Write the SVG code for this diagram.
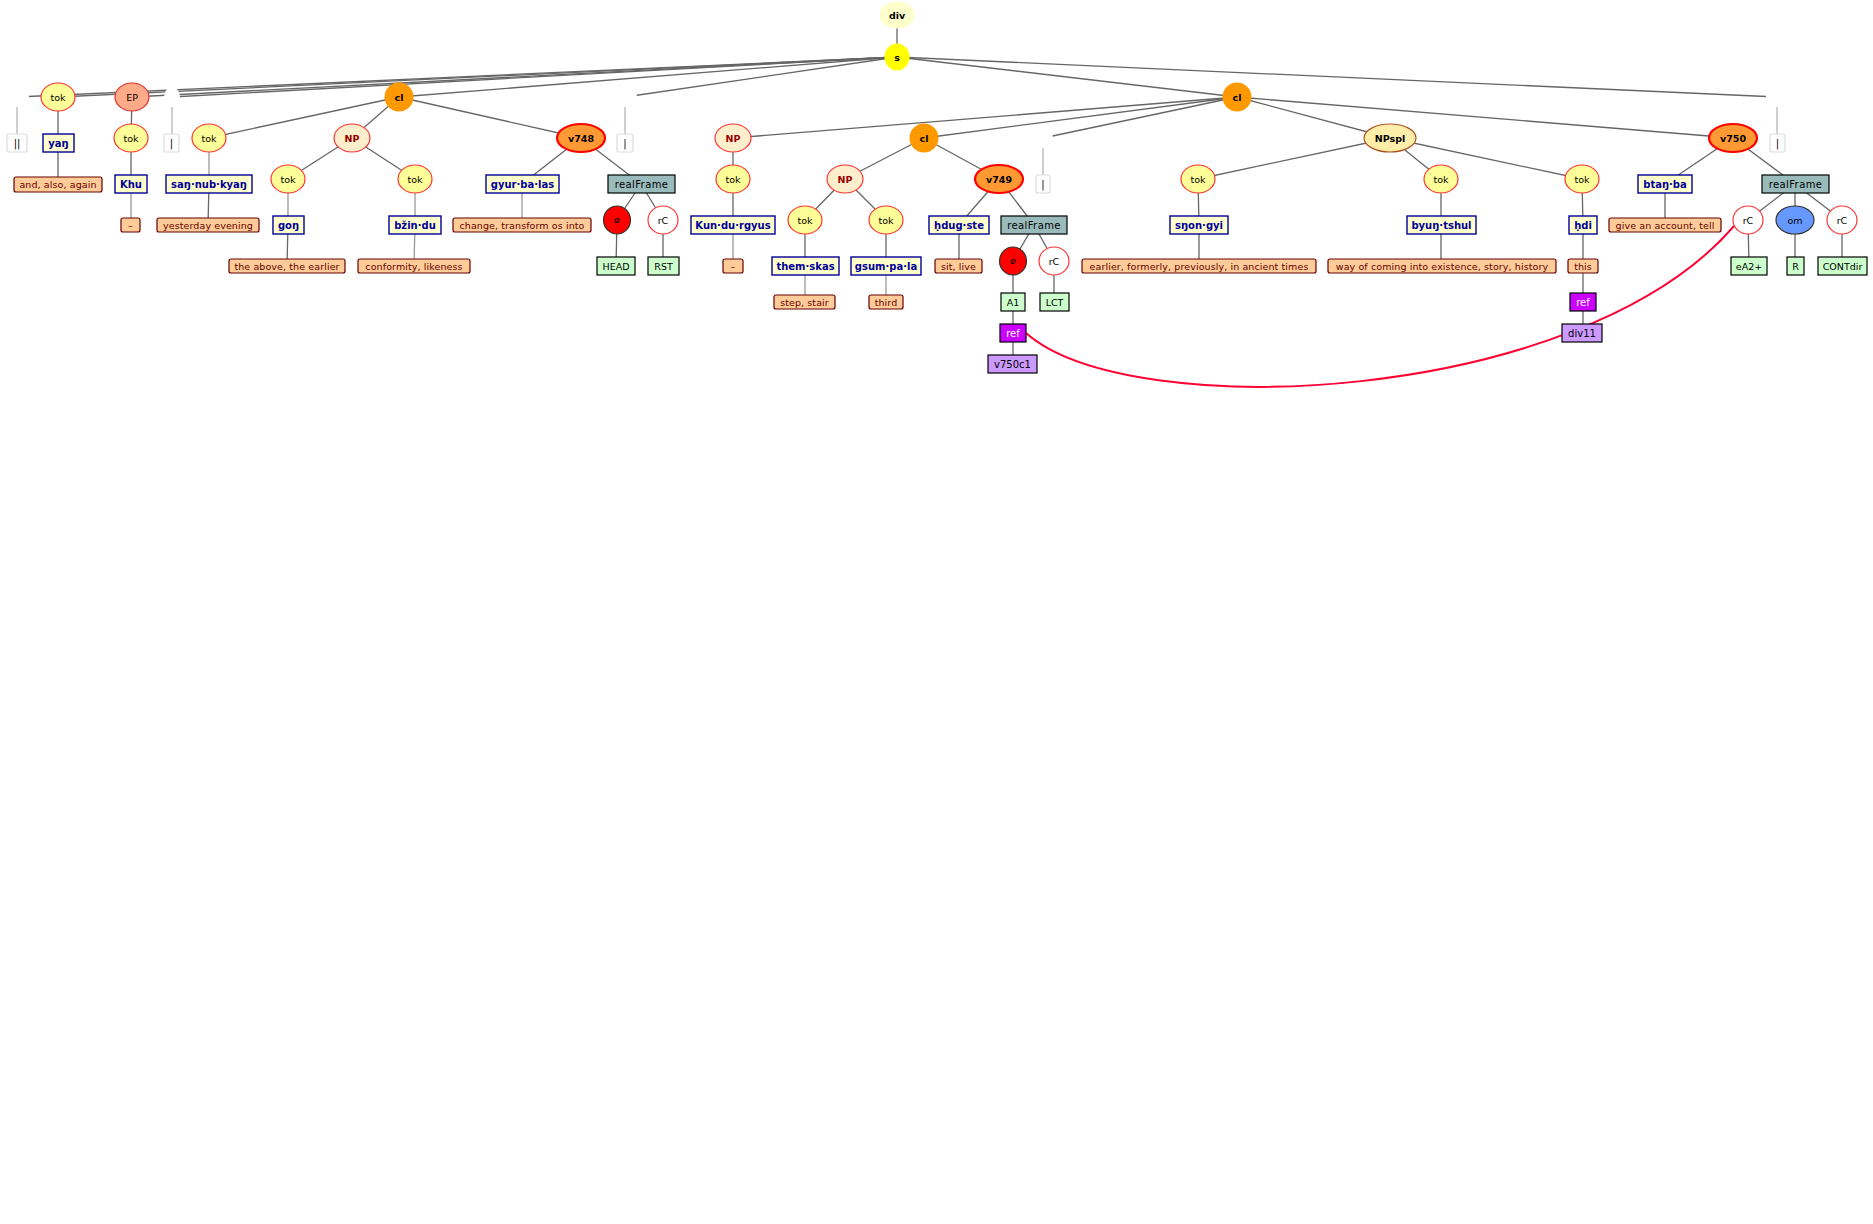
<svg xmlns="http://www.w3.org/2000/svg" width="1873" height="1224" viewBox="0 0 1873 1224">
<style>
text{font-family:"DejaVu Sans",Verdana,sans-serif;font-size:9.5px;text-anchor:middle;fill:#000}
.b{font-weight:bold}
#edges line{stroke:#666;stroke-width:1.3}
#edges line.l{stroke:#999}
#edges line.s{stroke:#b5b5b5}
.tok ellipse{fill:#ffff99;stroke:#ff3333;stroke-width:1.2}
.np ellipse{fill:#ffeecc;stroke:#ff3333;stroke-width:1.2}
.np text{fill:#990000;font-weight:bold}
.cl ellipse{fill:#ff9900}
.cl text{font-weight:bold}
.v ellipse{fill:#ff9933;stroke:#ff0000;stroke-width:2.2}
.v text{font-weight:bold}
.w rect{fill:#ffffcc;stroke:#000099;stroke-width:1.4}
.w text{fill:#000099;font-weight:bold;font-size:10px}
.g rect{fill:#ffcc99;stroke:#660000;stroke-width:1.2}
.g text{fill:#660000;letter-spacing:0.1px}
.gr rect{fill:#ccffcc;stroke:#000;stroke-width:1.2}
.rf rect{fill:#99bbbb;stroke:#000;stroke-width:1.2}
.rf text{font-size:10px;letter-spacing:0.4px}
.ref rect{fill:#cc00ff;stroke:#000;stroke-width:1.2}
.ref text{fill:#fff;font-size:10px}
.lv rect{fill:#cc99ff;stroke:#000;stroke-width:1.2}
.lv text{font-size:10px}
.pipe rect{fill:#fff;stroke:#dddddd;stroke-width:1.2}
.pipe text{fill:#000;font-size:10px}
.inv ellipse{fill:#fff}
.phi ellipse{fill:#ff0000;stroke:#333;stroke-width:1.2}
.rc ellipse{fill:#fff;stroke:#ff3333;stroke-width:1.2}
</style>
<g id="edges">
<line x1="897" y1="15" x2="897" y2="57"/>
<line x1="897" y1="57" x2="17" y2="97"/>
<line x1="897" y1="57" x2="58" y2="97"/>
<line x1="897" y1="57" x2="132" y2="97"/>
<line x1="897" y1="57" x2="172" y2="97"/>
<line x1="897" y1="57" x2="399" y2="97"/>
<line x1="897" y1="57" x2="625" y2="97"/>
<line x1="897" y1="57" x2="1237" y2="97"/>
<line x1="897" y1="57" x2="1777" y2="97"/>
<line class="s" x1="17" y1="107" x2="17" y2="134"/>
<line class="s" x1="172" y1="107" x2="172" y2="134"/>
<line class="s" x1="625" y1="107" x2="625" y2="134"/>
<line class="s" x1="1777" y1="107" x2="1777" y2="134"/>
<line class="s" x1="1043" y1="148" x2="1043" y2="175"/>
<line x1="58" y1="97" x2="58" y2="143"/>
<line x1="58" y1="143" x2="58" y2="184"/>
<line x1="132" y1="97" x2="131" y2="138"/>
<line x1="131" y1="138" x2="131" y2="184"/>
<line class="l" x1="131" y1="184" x2="131" y2="225"/>
<line x1="399" y1="97" x2="209" y2="138"/>
<line x1="399" y1="97" x2="352" y2="138"/>
<line x1="399" y1="97" x2="581" y2="138"/>
<line class="l" x1="209" y1="138" x2="209" y2="184"/>
<line x1="209" y1="184" x2="208" y2="225"/>
<line x1="352" y1="138" x2="288" y2="179"/>
<line x1="352" y1="138" x2="415" y2="179"/>
<line class="l" x1="288" y1="179" x2="288" y2="225"/>
<line x1="288" y1="225" x2="287" y2="266"/>
<line class="l" x1="415" y1="179" x2="415" y2="225"/>
<line class="l" x1="415" y1="225" x2="414" y2="266"/>
<line x1="581" y1="138" x2="522" y2="184"/>
<line class="l" x1="522" y1="184" x2="522" y2="225"/>
<line x1="581" y1="138" x2="641" y2="184"/>
<line x1="641" y1="184" x2="617" y2="220"/>
<line x1="641" y1="184" x2="663" y2="220"/>
<line x1="617" y1="220" x2="616" y2="266"/>
<line x1="663" y1="220" x2="663" y2="266"/>
<line x1="1237" y1="97" x2="733" y2="138"/>
<line x1="1237" y1="97" x2="924" y2="138"/>
<line x1="1237" y1="97" x2="1043" y2="138"/>
<line x1="1237" y1="97" x2="1390" y2="138"/>
<line x1="1237" y1="97" x2="1733" y2="138"/>
<line x1="733" y1="138" x2="733" y2="179"/>
<line x1="733" y1="179" x2="733" y2="225"/>
<line class="l" x1="733" y1="225" x2="733" y2="266"/>
<line x1="924" y1="138" x2="845" y2="179"/>
<line x1="924" y1="138" x2="999" y2="179"/>
<line x1="845" y1="179" x2="805" y2="220"/>
<line x1="845" y1="179" x2="886" y2="220"/>
<line x1="805" y1="220" x2="805" y2="266"/>
<line class="l" x1="805" y1="266" x2="805" y2="302"/>
<line x1="886" y1="220" x2="886" y2="266"/>
<line class="l" x1="886" y1="266" x2="886" y2="302"/>
<line x1="999" y1="179" x2="959" y2="225"/>
<line x1="959" y1="225" x2="959" y2="266"/>
<line x1="999" y1="179" x2="1034" y2="225"/>
<line x1="1034" y1="225" x2="1013" y2="261"/>
<line x1="1034" y1="225" x2="1054" y2="261"/>
<line x1="1013" y1="261" x2="1013" y2="302"/>
<line x1="1013" y1="302" x2="1013" y2="333"/>
<line x1="1013" y1="333" x2="1013" y2="364"/>
<line x1="1054" y1="261" x2="1054" y2="302"/>
<line x1="1390" y1="138" x2="1198" y2="179"/>
<line x1="1390" y1="138" x2="1441" y2="179"/>
<line x1="1390" y1="138" x2="1582" y2="179"/>
<line x1="1198" y1="179" x2="1199" y2="225"/>
<line x1="1199" y1="225" x2="1199" y2="266"/>
<line x1="1441" y1="179" x2="1441" y2="225"/>
<line x1="1441" y1="225" x2="1441" y2="266"/>
<line x1="1582" y1="179" x2="1583" y2="225"/>
<line x1="1583" y1="225" x2="1583" y2="266"/>
<line x1="1583" y1="266" x2="1583" y2="302"/>
<line x1="1583" y1="302" x2="1583" y2="333"/>
<line x1="1733" y1="138" x2="1665" y2="184"/>
<line x1="1665" y1="184" x2="1665" y2="225"/>
<line x1="1733" y1="138" x2="1795" y2="184"/>
<line x1="1795" y1="184" x2="1748" y2="220"/>
<line x1="1795" y1="184" x2="1795" y2="220"/>
<line x1="1795" y1="184" x2="1842" y2="220"/>
<line x1="1748" y1="220" x2="1749" y2="266"/>
<line x1="1795" y1="220" x2="1795" y2="266"/>
<line x1="1842" y1="220" x2="1842" y2="266"/>
<path d="M1026,333 C1130,425 1580,405 1734,226" fill="none" stroke="#ff0033" stroke-width="2"/>
</g>
<g id="inv-pipe0" class="inv"><ellipse cx="17" cy="97" rx="12" ry="10"/></g>
<g id="inv-pipe1" class="inv"><ellipse cx="172" cy="97" rx="8" ry="10"/></g>
<g id="inv-pipe2" class="inv"><ellipse cx="625" cy="97" rx="12" ry="10"/></g>
<g id="inv-pipe3" class="inv"><ellipse cx="1777" cy="97" rx="11" ry="10"/></g>
<g id="inv-pipe4" class="inv"><ellipse cx="1043" cy="138" rx="10" ry="10"/></g>

<g id="div"><ellipse cx="897" cy="15" rx="17.5" ry="13.5" fill="#ffffcc"/><text class="b" x="897" y="18.5">div</text></g>
<g id="s"><ellipse cx="897" cy="57" rx="12.5" ry="13.5" fill="#ffff00"/><text class="b" x="897" y="60.5">s</text></g>

<g id="pipe0" class="pipe"><rect x="7" y="134" width="20" height="18" rx="2"/><text x="17" y="147">||</text></g>
<g id="tok1" class="tok"><ellipse cx="58" cy="97" rx="17" ry="14"/><text x="58" y="100.5">tok</text></g>
<g id="w-yang" class="w"><rect x="43" y="134" width="31" height="18"/><text x="58.5" y="146.5">yaŋ</text></g>
<g id="g-and" class="g"><rect x="14" y="177" width="88" height="15" rx="2"/><text x="58" y="188">and, also, again</text></g>

<g id="ep"><ellipse cx="132" cy="97" rx="17" ry="14" fill="#ffaa88" stroke="#dd3333" stroke-width="1.2"/><text x="132" y="100.5" fill="#990000">EP</text></g>
<g id="tok2" class="tok"><ellipse cx="131" cy="138" rx="17" ry="14"/><text x="131" y="141.5">tok</text></g>
<g id="w-khu" class="w"><rect x="115" y="175" width="32" height="18"/><text x="131" y="187.5">Khu</text></g>
<g id="g-dash1" class="g"><rect x="121" y="218" width="19" height="14" rx="2"/><text x="130.5" y="228.5">–</text></g>

<g id="pipe1" class="pipe"><rect x="164" y="134" width="15" height="18" rx="2"/><text x="171.5" y="147">|</text></g>

<g id="cl1" class="cl"><ellipse cx="399" cy="97" rx="14.5" ry="14.5"/><text x="399" y="100.5">cl</text></g>
<g id="tok3" class="tok"><ellipse cx="209" cy="138" rx="17" ry="14"/><text x="209" y="141.5">tok</text></g>
<g id="w-sang" class="w"><rect x="166" y="175" width="86" height="18"/><text x="209" y="187.5">saŋ·nub·kyaŋ</text></g>
<g id="g-yest" class="g"><rect x="157" y="218" width="102" height="14" rx="2"/><text x="208" y="228.5">yesterday evening</text></g>
<g id="np1" class="np"><ellipse cx="352" cy="138" rx="18" ry="14"/><text x="352" y="141.5">NP</text></g>
<g id="tok4" class="tok"><ellipse cx="288" cy="179" rx="17" ry="14"/><text x="288" y="182.5">tok</text></g>
<g id="w-gong" class="w"><rect x="273" y="216" width="31" height="18"/><text x="288.5" y="228.5">goŋ</text></g>
<g id="g-above" class="g"><rect x="229" y="259" width="116" height="14" rx="2"/><text x="287" y="269.5">the above, the earlier</text></g>
<g id="tok5" class="tok"><ellipse cx="415" cy="179" rx="17" ry="14"/><text x="415" y="182.5">tok</text></g>
<g id="w-bzhin" class="w"><rect x="389" y="216" width="52" height="18"/><text x="415" y="228.5">bžin·du</text></g>
<g id="g-conf" class="g"><rect x="358" y="259" width="112" height="14" rx="2"/><text x="414" y="269.5">conformity, likeness</text></g>
<g id="v748" class="v"><ellipse cx="581" cy="138" rx="24" ry="14"/><text x="581" y="141.5">v748</text></g>
<g id="w-gyur" class="w"><rect x="486" y="175" width="73" height="18"/><text x="522.5" y="187.5">gyur·ba·las</text></g>
<g id="g-change" class="g"><rect x="453" y="218" width="138" height="14" rx="2"/><text x="522" y="228.5">change, transform os into</text></g>
<g id="rf1" class="rf"><rect x="608" y="175" width="67" height="18"/><text x="641.5" y="187.5">realFrame</text></g>
<g id="phi1" class="phi"><ellipse cx="617" cy="220" rx="13.5" ry="14"/><text x="617" y="223" font-size="9">ø</text></g>
<g id="rc1" class="rc"><ellipse cx="663" cy="220" rx="15" ry="14"/><text x="663" y="223.5">rC</text></g>
<g id="gr-head" class="gr"><rect x="597" y="257" width="38" height="18"/><text x="616" y="269.5">HEAD</text></g>
<g id="gr-rst" class="gr"><rect x="648" y="257" width="31" height="18"/><text x="663.5" y="269.5">RST</text></g>

<g id="pipe2" class="pipe"><rect x="617" y="134" width="16" height="18" rx="2"/><text x="625" y="147">|</text></g>

<g id="cl2" class="cl"><ellipse cx="1237" cy="97" rx="14.5" ry="14.5"/><text x="1237" y="100.5">cl</text></g>
<g id="np2" class="np"><ellipse cx="733" cy="138" rx="18" ry="14"/><text x="733" y="141.5">NP</text></g>
<g id="tok6" class="tok"><ellipse cx="733" cy="179" rx="17" ry="14"/><text x="733" y="182.5">tok</text></g>
<g id="w-kun" class="w"><rect x="691" y="216" width="84" height="18"/><text x="733" y="228.5">Kun·du·rgyus</text></g>
<g id="g-dash2" class="g"><rect x="723" y="259" width="20" height="14" rx="2"/><text x="733" y="269.5">–</text></g>
<g id="cl3" class="cl"><ellipse cx="924" cy="138" rx="14.5" ry="14.5"/><text x="924" y="141.5">cl</text></g>
<g id="np3" class="np"><ellipse cx="845" cy="179" rx="18" ry="14"/><text x="845" y="182.5">NP</text></g>
<g id="tok7" class="tok"><ellipse cx="805" cy="220" rx="17" ry="14"/><text x="805" y="223.5">tok</text></g>
<g id="w-them" class="w"><rect x="772" y="257" width="67" height="18"/><text x="805.5" y="269.5">them·skas</text></g>
<g id="g-step" class="g"><rect x="774" y="295" width="61" height="14" rx="2"/><text x="804.5" y="305.5">step, stair</text></g>
<g id="tok8" class="tok"><ellipse cx="886" cy="220" rx="17" ry="14"/><text x="886" y="223.5">tok</text></g>
<g id="w-gsum" class="w"><rect x="851" y="257" width="70" height="18"/><text x="886" y="269.5">gsum·pa·la</text></g>
<g id="g-third" class="g"><rect x="869" y="295" width="34" height="14" rx="2"/><text x="886" y="305.5">third</text></g>
<g id="v749" class="v"><ellipse cx="999" cy="179" rx="24" ry="14"/><text x="999" y="182.5">v749</text></g>
<g id="w-hdug" class="w"><rect x="929" y="216" width="60" height="18"/><text x="959" y="228.5">ḥdug·ste</text></g>
<g id="g-sit" class="g"><rect x="935" y="259" width="47" height="14" rx="2"/><text x="958.5" y="269.5">sit, live</text></g>
<g id="rf2" class="rf"><rect x="1001" y="216" width="66" height="18"/><text x="1034" y="228.5">realFrame</text></g>
<g id="phi2" class="phi"><ellipse cx="1013" cy="261" rx="13.5" ry="14"/><text x="1013" y="264" font-size="9">ø</text></g>
<g id="rc2" class="rc"><ellipse cx="1054" cy="261" rx="15" ry="14"/><text x="1054" y="264.5">rC</text></g>
<g id="gr-a1" class="gr"><rect x="1001" y="293" width="24" height="18"/><text x="1013" y="305.5">A1</text></g>
<g id="gr-lct" class="gr"><rect x="1040" y="293" width="29" height="18"/><text x="1054.5" y="305.5">LCT</text></g>
<g id="ref1" class="ref"><rect x="1000" y="324" width="26" height="18"/><text x="1013" y="336.5">ref</text></g>
<g id="lv-v750c1" class="lv"><rect x="988" y="355" width="49" height="18"/><text x="1012.5" y="367.5">v750c1</text></g>
<g id="pipe4" class="pipe"><rect x="1036" y="175" width="14" height="18" rx="2"/><text x="1043" y="188">|</text></g>

<g id="npspl"><ellipse cx="1390" cy="138" rx="26" ry="14" fill="#ffeeaa" stroke="#aa5522" stroke-width="1.2"/><text class="b" x="1390" y="141.5" fill="#993300">NPspl</text></g>
<g id="tok9" class="tok"><ellipse cx="1198" cy="179" rx="17" ry="14"/><text x="1198" y="182.5">tok</text></g>
<g id="w-sngon" class="w"><rect x="1170" y="216" width="58" height="18"/><text x="1199" y="228.5">sŋon·gyi</text></g>
<g id="g-earlier" class="g"><rect x="1082" y="259" width="234" height="14" rx="2"/><text x="1199" y="269.5">earlier, formerly, previously, in ancient times</text></g>
<g id="tok10" class="tok"><ellipse cx="1441" cy="179" rx="17" ry="14"/><text x="1441" y="182.5">tok</text></g>
<g id="w-byung" class="w"><rect x="1407" y="216" width="69" height="18"/><text x="1441.5" y="228.5">byuŋ·tshul</text></g>
<g id="g-way" class="g"><rect x="1328" y="259" width="228" height="14" rx="2"/><text x="1442" y="269.5">way of coming into existence, story, history</text></g>
<g id="tok11" class="tok"><ellipse cx="1582" cy="179" rx="17" ry="14"/><text x="1582" y="182.5">tok</text></g>
<g id="w-hdi" class="w"><rect x="1569" y="216" width="28" height="18"/><text x="1583" y="228.5">ḥdi</text></g>
<g id="g-this" class="g"><rect x="1568" y="259" width="30" height="14" rx="2"/><text x="1583" y="269.5">this</text></g>
<g id="ref2" class="ref"><rect x="1570" y="293" width="26" height="18"/><text x="1583" y="305.5">ref</text></g>
<g id="lv-div11" class="lv"><rect x="1562" y="324" width="40" height="18"/><text x="1582" y="336.5">div11</text></g>
<g id="v750" class="v"><ellipse cx="1733" cy="138" rx="24" ry="14"/><text x="1733" y="141.5">v750</text></g>
<g id="w-btang" class="w"><rect x="1638" y="175" width="54" height="18"/><text x="1665" y="187.5">btaŋ·ba</text></g>
<g id="g-give" class="g"><rect x="1609" y="218" width="112" height="14" rx="2"/><text x="1665" y="228.5">give an account, tell</text></g>
<g id="rf3" class="rf"><rect x="1762" y="175" width="67" height="18"/><text x="1795.5" y="187.5">realFrame</text></g>
<g id="rc3" class="rc"><ellipse cx="1748" cy="220" rx="15" ry="14"/><text x="1748" y="223.5">rC</text></g>
<g id="om"><ellipse cx="1795" cy="220" rx="19" ry="14" fill="#6699ff" stroke="#333" stroke-width="1.2"/><text x="1795" y="223.5">om</text></g>
<g id="rc4" class="rc"><ellipse cx="1842" cy="220" rx="15" ry="14"/><text x="1842" y="223.5">rC</text></g>
<g id="gr-ea2" class="gr"><rect x="1731" y="257" width="36" height="18"/><text x="1749" y="269.5">eA2+</text></g>
<g id="gr-r" class="gr"><rect x="1787" y="257" width="17" height="18"/><text x="1795.5" y="269.5">R</text></g>
<g id="gr-contdir" class="gr"><rect x="1818" y="257" width="49" height="18"/><text x="1842.5" y="269.5">CONTdir</text></g>
<g id="pipe3" class="pipe"><rect x="1770" y="134" width="15" height="18" rx="2"/><text x="1777.5" y="147">|</text></g>
</svg>
